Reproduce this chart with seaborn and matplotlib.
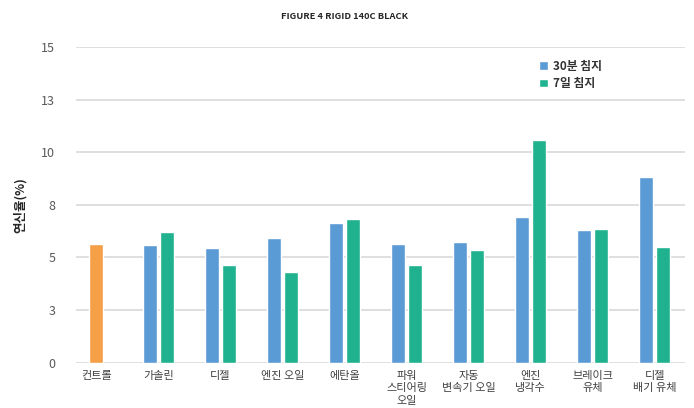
import matplotlib
matplotlib.use("Agg")
import matplotlib.pyplot as plt
import seaborn as sns
import pandas as pd
import numpy as np
from matplotlib.patches import Patch

categories = ["컨트롤", "가솔린", "디젤", "엔진 오일", "에탄올", "파워\n스티어링\n오일",
              "자동\n변속기 오일", "엔진\n냉각수", "브레이크\n유체", "디젤\n배기 유체"]
series_names = ["30분 침지", "7일 침지"]
control_value = 5.64
values_30min = [5.60, 5.45, 5.93, 6.64, 5.64, 5.74, 6.93, 6.31, 8.83]
values_7day = [6.21, 4.64, 4.31, 6.83, 4.64, 5.36, 10.6, 6.36, 5.48]
y_ticks = [0, 2.5, 5, 7.5, 10, 12.5, 15]
y_tick_labels = ["0", "3", "5", "8", "10", "13", "15"]

blue = "#5B9BD5"
green = "#20B28E"
orange = "#F5A046"

rows = []
for c, a, b in zip(categories[1:], values_30min, values_7day):
    rows.append({"cat": c, "series": series_names[0], "val": a})
    rows.append({"cat": c, "series": series_names[1], "val": b})
df = pd.DataFrame(rows)
df_ctrl = pd.DataFrame({"cat": [categories[0]], "val": [control_value]})

sns.set_theme(style="white")
plt.rcParams["font.family"] = ["Noto Sans CJK KR", "DejaVu Sans"]

fig = plt.figure(figsize=(6.94, 4.08), dpi=100)
ax = fig.add_axes([0.1095, 0.1115, 0.8775, 0.7733])

sns.barplot(data=df_ctrl, x="cat", y="val", order=categories, color=orange,
            width=0.226, errorbar=None, ax=ax, saturation=1)
sns.barplot(data=df, x="cat", y="val", hue="series", order=categories,
            hue_order=series_names, palette=[blue, green], width=0.548, gap=0.18,
            errorbar=None, ax=ax, legend=False, saturation=1)

ax.set_ylim(0, 15)
ax.set_xlim(-0.33, 9.49)
ax.set_yticks(y_ticks)
ax.set_yticklabels(y_tick_labels, fontsize=9, color="#595959")
ax.tick_params(axis="y", length=0, pad=15)
ax.tick_params(axis="x", length=0, pad=6)
for t in ax.get_xticklabels():
    t.set_fontsize(8)
    t.set_color("#404040")
    t.set_linespacing(1.3)
    t.set_verticalalignment("top")
ax.yaxis.grid(True, color="#d9d9d9", linewidth=1.2)
ax.set_axisbelow(True)
for s in ax.spines.values():
    s.set_visible(False)
ax.set_xlabel("")
ax.set_ylabel("연신율(%)", fontsize=9, fontweight="bold", color="#262626")
ax.yaxis.set_label_coords(-0.08, 0.5)

handles = [Patch(facecolor=blue), Patch(facecolor=green)]
leg = ax.legend(handles, series_names, loc="upper left", bbox_to_anchor=(0.743, 0.993),
                frameon=False, handlelength=0.75, handleheight=0.75, handletextpad=0.45,
                labelspacing=0.35, prop={"size": 8.5, "weight": "bold"})
for t in leg.get_texts():
    t.set_color("#333333")

fig.text(0.497, 0.96, "FIGURE 4 RIGID 140C BLACK", ha="center", va="center",
         fontsize=6.7, fontweight="bold", color="#262626")

fig.savefig("out.png", dpi=100)
